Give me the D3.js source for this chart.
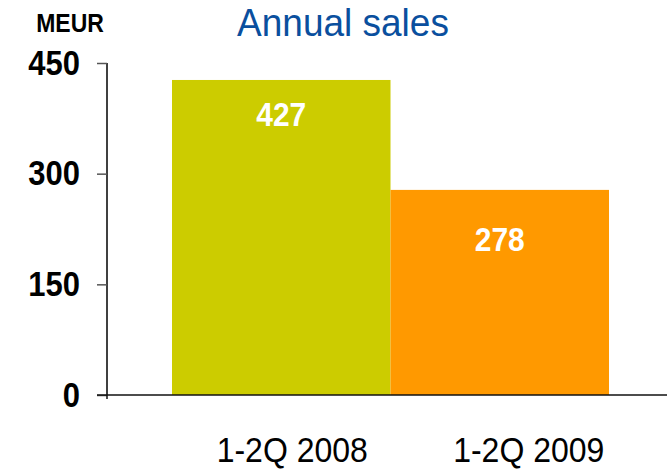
<!DOCTYPE html>
<html><head><meta charset="utf-8">
<script src="https://cdn.jsdelivr.net/npm/d3@7"></script>
<style>body{margin:0;background:#fff}svg{display:block}text{font-family:"Liberation Sans",Arial,sans-serif}</style>
</head><body>
<svg id="c" width="667" height="470"></svg>
<script>
const categories = ["1-2Q 2008", "1-2Q 2009"];
const sales = [427, 278];
const barColors = ["#CCCC00", "#FF9900"];
const yTicks = [0, 150, 300, 450];
const title = "Annual sales";
const unit = "MEUR";

const SY = 1.12; // vertical stretch of the reference text
const svg = d3.select("#c");
const y = d3.scaleLinear().domain([0, 450]).range([395, 63]);
const x = d3.scaleBand().domain(categories).range([172, 609]).padding(0);

function stretched(sel, fx, fy, sy) {
  return sel.attr("transform", (d, i) => `translate(${fx(d, i)},${fy(d, i)}) scale(1,${sy || SY})`);
}

// bars
svg.selectAll("rect.bar").data(sales).enter().append("rect")
  .attr("x", (d, i) => x(categories[i]))
  .attr("y", d => y(d))
  .attr("width", x.bandwidth())
  .attr("height", d => y(0) - y(d))
  .attr("fill", (d, i) => barColors[i]);

// value labels
const labelDy = [46, 61];
stretched(svg.selectAll("text.val").data(sales).enter().append("text"),
  (d, i) => x(categories[i]) + x.bandwidth() / 2, (d, i) => y(d) + labelDy[i])
  .attr("text-anchor", "middle")
  .attr("font-weight", "bold").attr("font-size", 30)
  .attr("fill", "#fff").text(d => d);

// y axis
const yAxis = d3.axisLeft(y).tickValues(yTicks).tickSize(10).tickPadding(0);
const ga = svg.append("g").attr("transform", "translate(107,0)").call(yAxis);
ga.select(".domain").attr("stroke", "#000").attr("stroke-width", 1.5).attr("d", "M0,63V395");
ga.selectAll(".tick line").attr("stroke", "#555").attr("stroke-width", 1.5);
ga.selectAll(".tick text")
  .attr("x", null).attr("dy", null)
  .attr("transform", `translate(-27,11) scale(1,${SY})`)
  .attr("font-size", 31).attr("font-weight", "bold").attr("fill", "#000")
  .style("font-family", '"Liberation Sans",Arial,sans-serif');

// x axis baseline
svg.append("line").attr("x1", 97).attr("x2", 667).attr("y1", y(0)).attr("y2", y(0))
  .attr("stroke", "#111").attr("stroke-width", 1.5);
svg.append("line").attr("x1", 107).attr("x2", 107).attr("y1", y(0)).attr("y2", y(0) + 4)
  .attr("stroke", "#111").attr("stroke-width", 1.5);

// category labels
const catDx = [11, 29];
stretched(svg.selectAll("text.cat").data(categories).enter().append("text"),
  (d, i) => x(d) + x.bandwidth() / 2 + catDx[i], () => 462, 1.08)
  .attr("text-anchor", "middle").attr("font-size", 32).attr("fill", "#000")
  .text(d => d);

// title & unit
svg.append("text").attr("transform", `translate(343,36) scale(1,1.05)`).attr("text-anchor", "middle")
  .attr("font-size", 37).attr("fill", "#0A4F9E").text(title);
svg.append("text").attr("transform", `translate(70,32) scale(1,${SY})`).attr("text-anchor", "middle")
  .attr("font-size", 23).attr("font-weight", "bold").attr("fill", "#000").text(unit);
</script>
</body></html>
